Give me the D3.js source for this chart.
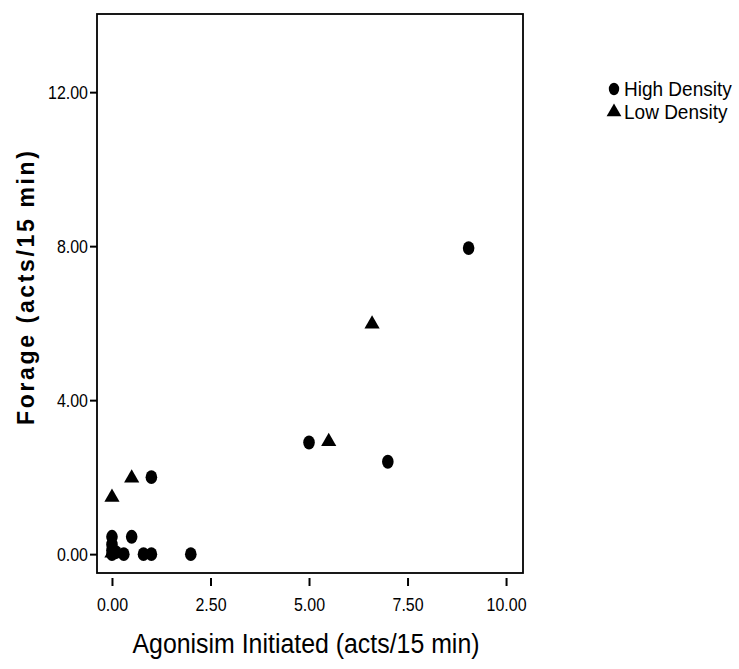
<!DOCTYPE html>
<html>
<head>
<meta charset="utf-8">
<script src="https://d3js.org/d3.v7.min.js"></script>
<style>
  body { margin: 0; background: #fff; }
  .tick text { font-family: "Liberation Sans", Arial, sans-serif; font-size: 19px; fill: #000; }
</style>
</head>
<body>
<div id="chart"></div>
<script>
// values
let highX = [9.05, 5.0, 7.0, 1.0, 0.5, 0.0, 0.0, 0.0, 0.0, 0.3, 0.8, 1.0, 2.0, 0.1];
let highY = [7.95, 2.9, 2.4, 2.0, 0.45, 0.45, 0.25, 0.1, 0.0, 0.0, 0.0, 0.0, 0.0, 0.05];
let lowX = [6.6, 5.5, 0.5, 0.0, 0.0];
let lowY = [5.95, 2.9, 1.95, 1.45, 0.0];
let xTicks = [0, 2.5, 5, 7.5, 10];
let yTicks = [0, 4, 8, 12];
let legendLabels = ["High Density", "Low Density"];

let W = 739, H = 669;
let frame = { left: 97, top: 14, right: 523, bottom: 573 };

let svg = d3.select("#chart").append("svg")
    .attr("width", W).attr("height", H);

// the original font is a narrow one, so squeeze the text horizontally
function squeeze(sel, k) {
    sel.each(function() {
        let w = this.getComputedTextLength();
        d3.select(this).attr("textLength", w * k).attr("lengthAdjust", "spacingAndGlyphs");
    });
}

// domains picked so that 0..10 / 0..12 land where the ticks are
let x = d3.scaleLinear().domain([-0.38, 10.43]).range([frame.left, frame.right]);
let y = d3.scaleLinear().domain([-0.49, 14.03]).range([frame.bottom, frame.top]);

// frame
svg.append("rect")
    .attr("x", frame.left).attr("y", frame.top)
    .attr("width", frame.right - frame.left).attr("height", frame.bottom - frame.top)
    .style("fill", "none").style("stroke", "#000").style("stroke-width", 1.8);

// x axis, sits a little below the frame
let xAxis = svg.append("g")
    .attr("transform", "translate(0," + (frame.bottom + 5) + ")")
    .call(d3.axisBottom(x).tickValues(xTicks).tickFormat(d3.format(".2f")).tickSize(8).tickPadding(12));
xAxis.select(".domain").remove();
xAxis.selectAll(".tick line").style("stroke", "#000").style("stroke-width", 2);
squeeze(xAxis.selectAll(".tick text"), 0.84);

// y axis on the frame edge
let yAxis = svg.append("g")
    .attr("transform", "translate(" + frame.left + ",0)")
    .call(d3.axisLeft(y).tickValues(yTicks).tickFormat(d3.format(".2f")).tickSize(7).tickPadding(2));
yAxis.select(".domain").remove();
yAxis.selectAll(".tick line").style("stroke", "#000").style("stroke-width", 2);
squeeze(yAxis.selectAll(".tick text"), 0.84);

// titles
svg.append("text")
    .attr("x", 306).attr("y", 653)
    .attr("text-anchor", "middle")
    .style("font-family", "'Liberation Sans', Arial, sans-serif")
    .style("font-size", "27px")
    .attr("textLength", 347).attr("lengthAdjust", "spacingAndGlyphs")
    .text("Agonisim Initiated (acts/15 min)");

svg.append("text")
    .attr("transform", "translate(34,288) rotate(-90)")
    .attr("text-anchor", "middle")
    .style("font-family", "'Liberation Sans', Arial, sans-serif")
    .style("font-size", "23px")
    .style("font-weight", "bold")
    .attr("textLength", 274).attr("lengthAdjust", "spacing")
    .text("Forage (acts/15 min)");

// markers
let circleSym = d3.symbol().type(d3.symbolCircle).size(125);
let triSym = d3.symbol().type(d3.symbolTriangle).size(100);

svg.append("g").selectAll("path")
    .data(d3.range(highX.length))
    .join("path")
    .attr("d", circleSym)
    .attr("transform", i => "translate(" + x(highX[i]) + "," + y(highY[i]) + ") scale(0.92,1.1)")
    .style("fill", "#000");

svg.append("g").selectAll("path")
    .data(d3.range(lowX.length))
    .join("path")
    .attr("d", triSym)
    .attr("transform", i => "translate(" + x(lowX[i]) + "," + (y(lowY[i]) - 1) + ")")
    .style("fill", "#000");

// legend
let legend = svg.append("g").attr("transform", "translate(614,89)");
let items = legend.selectAll("g").data(legendLabels).join("g")
    .attr("transform", (d, i) => "translate(0," + i * 23 + ")");
items.append("path")
    .attr("d", (d, i) => i === 0 ? d3.symbol().type(d3.symbolCircle).size(100)() : d3.symbol().type(d3.symbolTriangle).size(95)())
    .attr("transform", (d, i) => i === 0 ? "scale(0.92,1.1)" : null)
    .style("fill", "#000");
let legendText = items.append("text")
    .attr("x", 10).attr("y", 7)
    .style("font-family", "'Liberation Sans', Arial, sans-serif")
    .style("font-size", "20px")
    .text(d => d);
squeeze(legendText, 0.95);
</script>
</body>
</html>
